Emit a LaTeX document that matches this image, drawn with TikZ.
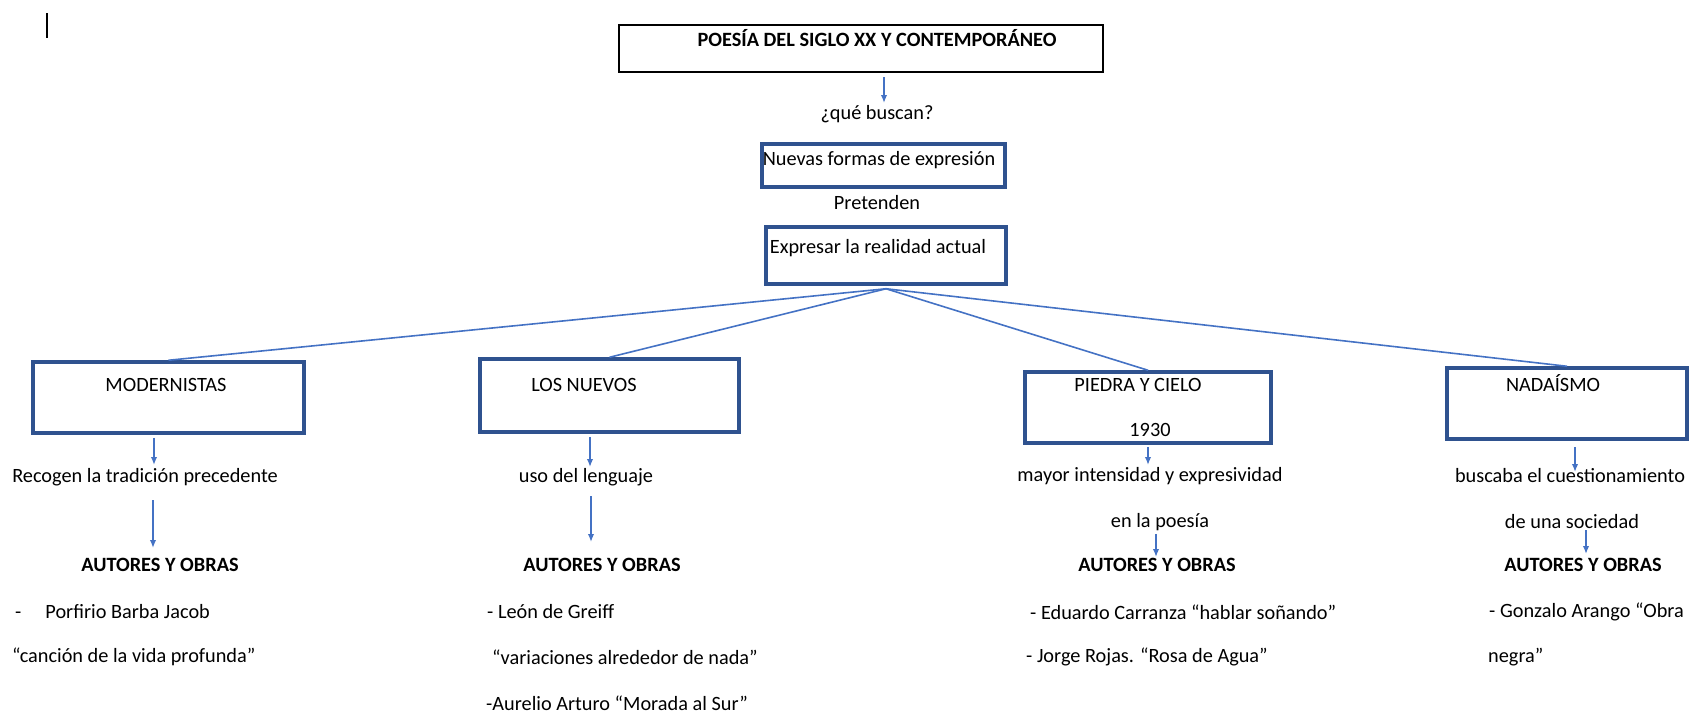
\documentclass[tikz,border=0pt]{standalone}
\usepackage{fontspec}
\setmainfont{Carlito}
\usepackage{xcolor}
\usetikzlibrary{arrows.meta}
\definecolor{boxblue}{RGB}{47,82,143}
\definecolor{lineblue}{RGB}{68,114,196}
\newcommand{\drawBox}[5]{% name, top left: x,y, bottom right: x,y
  \node[bluebox,minimum width={(#4-#2)*1pt},minimum height={(#5-#3)*1pt}] (#1) at ({(#2+#4)/2},{(#3+#5)/2}) {};
}
\newcommand{\drawAutores}[3]{% name, center: x,y
  \node[bold] (#1) at (#2,#3) {AUTORES Y OBRAS};
}

\begin{document}
\begin{tikzpicture}[x=1pt,y=-1pt,>={Latex[length=8pt,width=6.5pt]},
  txt/.style={inner sep=0pt,font=\fontsize{20.3}{24}\selectfont},
  bold/.style={inner sep=0pt,font=\fontsize{20.3}{24}\selectfont\bfseries},
  bluebox/.style={draw=boxblue,line width=3.5pt,inner sep=0pt},
  conn/.style={draw=lineblue,line width=1.6pt},
  arr/.style={conn,->}]
\useasboundingbox (0,0) rectangle (1694,713);

% Cursor mark
\draw[line width=1.5pt] (47,13) -- (47,38);

% Title
\node[draw,line width=2.5pt,minimum width=484pt,minimum height=47pt,inner sep=0pt] (top) at (861,48.5) {};
\node[bold] (title) at (877,38) {POESÍA DEL SIGLO XX Y CONTEMPORÁNEO};
\coordinate (q1) at (884,103);
\draw[arr,shorten <=4pt] (top.south -| q1) -- (q1);

% Center column
\node[txt] (busc) at (877,114) {¿qué buscan?};
\drawBox{nuevas}{762}{144}{1005}{187}
\node[txt] (nuevastxt) at (879,160) {Nuevas formas de expresión};
\node[txt] (pret) at (877,203) {Pretenden};
\drawBox{expr}{766}{227}{1006}{284}
\node[txt] (exprtxt) at (878,248) {Expresar la realidad actual};

% Groups
\drawBox{modern}{33}{362}{304}{433}
\node[txt] (moderntxt) at (166,385) {MODERNISTAS};
\drawBox{nuevos}{480}{359}{739}{432}
\node[txt] (nuevostxt) at (584,385) {LOS NUEVOS};
\drawBox{piedra}{1025}{372}{1271}{443}
\node[txt] (piedratxt) at (1138,385) {PIEDRA Y CIELO};
\node[txt] (year) at (1150,430) {1930};
\drawBox{nada}{1447}{368}{1687}{439}
\node[txt] (nadatxt) at (1553,383) {NADAÍSMO};

% Fan out
\foreach \g in {modern,nuevos,piedra,nada}
  \draw[conn] ([yshift=-3pt]expr.south) -- (\g.north);

% Modernistas
\node[txt] (recoge) at (145,477) {Recogen la tradición precedente};
\coordinate (a1) at (154,465);
\draw[arr,shorten <=3pt] (modern.south -| a1) -- (a1);
\drawAutores{aut1}{160}{565}
\coordinate (a2) at (153,548);
\draw[arr,shorten <=14pt] (recoge.south -| a2) -- (a2);
\node[txt,anchor=west] (porf) at (15,612) {-\hspace{24pt}Porfirio Barba Jacob};
\node[txt,anchor=west] (cancion) at (12,657) {“canción de la vida profunda”};

% Los nuevos
\node[txt] (uso) at (586,477) {uso del lenguaje};
\coordinate (b1) at (590,467);
\draw[arr,shorten <=3pt] (nuevos.south -| b1) -- (b1);
\drawAutores{aut2}{602}{565}
\coordinate (b2) at (591,542);
\draw[arr,shorten <=10pt] (uso.south -| b2) -- (b2);
\node[txt,anchor=west] (leon) at (487,612) {- León de Greiff};
\node[txt,anchor=west] (variac) at (492,657) {“variaciones alrededor de nada”};
\node[txt,anchor=west] (aurelio) at (486,703) {-Aurelio Arturo “Morada al Sur”};

% Piedra y cielo
\node[txt] (mayor) at (1150,476) {mayor intensidad y expresividad};
\coordinate (c1) at (1148,465);
\draw[arr,shorten <=2pt] (piedra.south -| c1) -- (c1);
\node[txt] (enla) at (1160,522) {en la poesía};
\drawAutores{aut3}{1157}{565}
\coordinate (c2) at (1156,557);
\draw[arr,shorten <=3pt] (enla.south -| c2) -- (c2);
\node[txt,anchor=west] (eduardo) at (1030,612) {- Eduardo Carranza “hablar soñando”};
\node[txt,anchor=west] (jorge) at (1026,657) {- Jorge Rojas. “Rosa de Agua”};

% Nadaismo
\node[txt] (busca) at (1570,476) {buscaba el cuestionamiento};
\coordinate (d1) at (1575,472);
\draw[arr,shorten <=6pt] (nada.south -| d1) -- (d1);
\node[txt] (socied) at (1572,522) {de una sociedad};
\drawAutores{aut4}{1583}{565}
\coordinate (d2) at (1586,554);
\draw[arr,shorten <=1pt] (socied.south -| d2) -- (d2);
\node[txt,anchor=west] (gonzalo) at (1489,612) {- Gonzalo Arango “Obra};
\node[txt,anchor=west] (negra) at (1488,657) {negra”};
\end{tikzpicture}
\end{document}
